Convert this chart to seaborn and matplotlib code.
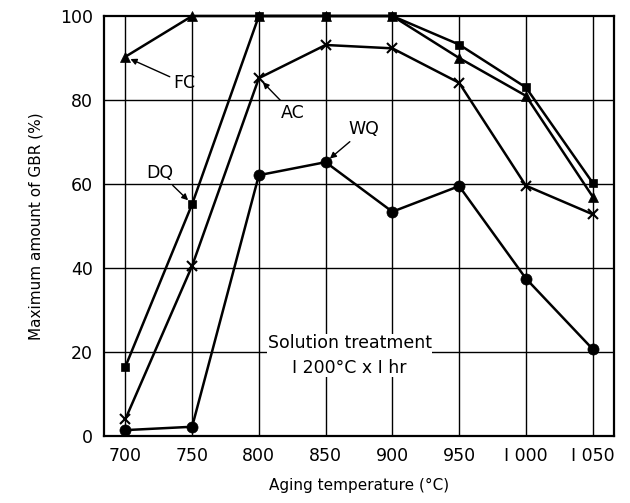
import matplotlib
matplotlib.use("Agg")
import matplotlib.pyplot as plt
import seaborn as sns
import pandas as pd

temps = [700, 750, 800, 850, 900, 950, 1000, 1050]
fc = [90.3, 100, 100, 100, 100, 90, 81, 57]
dq = [16.5, 55.2, 100, 100, 100, 93.2, 83, 60.3]
ac = [4, 40.5, 85.2, 93.1, 92.3, 84.1, 59.6, 52.8]
wq = [1.4, 2.2, 62.1, 65.2, 53.4, 59.5, 37.5, 20.7]
series_names = ["FC", "DQ", "AC", "WQ"]
xtick_labels = ["700", "750", "800", "850", "900", "950", "I 000", "I 050"]
ytick_vals = [0, 20, 40, 60, 80, 100]

sns.set_theme(style="white")
plt.rcParams['font.family'] = ['DejaVu Sans']
plt.rcParams['text.color'] = 'black'

rows = []
for name, vals in zip(series_names, [fc, dq, ac, wq]):
    for t, v in zip(temps, vals):
        rows.append({"temp": t, "val": v, "series": name})
df = pd.DataFrame(rows)

fig = plt.figure(figsize=(6.3, 5.03), dpi=100)
ax = fig.add_axes([104/630, 1-436/503, (614-104)/630, (436-16)/503])

for t in temps:
    ax.axvline(t, color="black", lw=1.0, zorder=0)
for y in [20, 40, 60, 80]:
    ax.axhline(y, color="black", lw=1.0, zorder=0)

markers = {"FC": "^", "DQ": "s", "AC": "x", "WQ": "o"}
sizes = {"FC": 7, "DQ": 6, "AC": 7, "WQ": 8}
for name in series_names:
    sub = df[df.series == name]
    sns.lineplot(data=sub, x="temp", y="val", ax=ax, color="black", lw=1.8,
                 marker=markers[name],
                 markersize=sizes[name], markeredgewidth=1.5 if name == "AC" else 0.5,
                 markeredgecolor="black", markerfacecolor="black",
                 clip_on=False, legend=False, zorder=3)

ax.set_xlim(684, 1066)
ax.set_ylim(0, 100)
ax.set_xticks(temps)
ax.set_xticklabels(xtick_labels)
ax.set_yticks(ytick_vals)
ax.set_yticklabels([str(v) for v in ytick_vals])
ax.tick_params(length=0, labelsize=12.5, colors="black", pad=8)
for s in ax.spines.values():
    s.set_color("black")
    s.set_linewidth(1.6)
ax.set_xlabel("Aging temperature (°C)", fontsize=11, color="black", labelpad=9)
ax.set_ylabel("Maximum amount of GBR (%)", fontsize=11, color="black", labelpad=12)

arrow = dict(arrowstyle="-|>", color="black", lw=1.0, mutation_scale=9, shrinkA=0, shrinkB=4)
kw = dict(fontsize=12.5, ha="center", va="center", color="black", arrowprops=arrow)
ax.annotate("FC", xy=(temps[0], fc[0]), xytext=(744, 84), **kw)
ax.annotate("AC", xy=(temps[2], ac[2]), xytext=(825, 77), **kw)
ax.annotate("WQ", xy=(temps[3], wq[3]), xytext=(879, 73), **kw)
ax.annotate("DQ", xy=(temps[1], dq[1]), xytext=(726, 62.6), **kw)
ax.text(868, 19.2, "Solution treatment\nI 200°C x I hr", fontsize=12.5, ha="center", va="center",
        color="black", linespacing=1.45, bbox=dict(facecolor="white", edgecolor="none", pad=0.5))

fig.savefig("out.png", dpi=100)
